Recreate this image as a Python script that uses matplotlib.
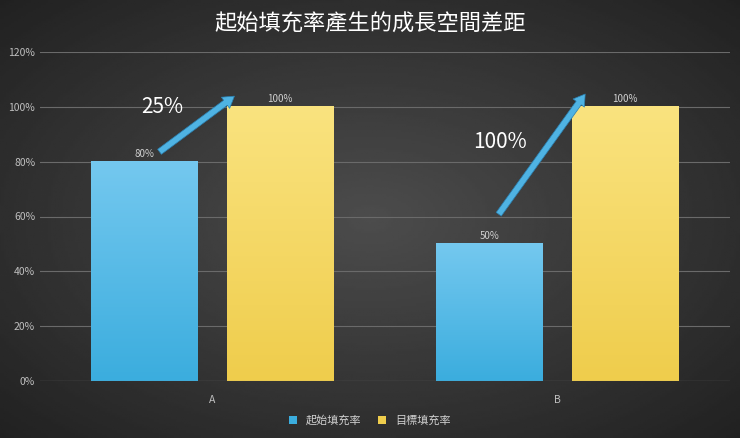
import numpy as np
import matplotlib
matplotlib.use('agg')
import matplotlib.pyplot as plt

plt.rcParams['font.family'] = ['Noto Sans CJK TC', 'DejaVu Sans']

categories = ['A', 'B']
start_fill = [80, 50]
target_fill = [100, 100]
arrow_labels = ['25%', '100%']
series_names = ['起始填充率', '目標填充率']
title = '起始填充率產生的成長空間差距'

blue_top, blue_bot = '#74c8ef', '#3badde'
yel_top, yel_bot = '#fae37f', '#efcd4c'

fig = plt.figure(figsize=(7.4, 4.38), dpi=100)
# dark radial-ish background
bg = fig.add_axes([0, 0, 1, 1])
yy, xx = np.mgrid[-1:1:200j, -1:1:300j]
r = np.sqrt(xx**2 + yy**2)
bg.imshow(0.30 - 0.12 * r, cmap='gray', vmin=0, vmax=1, aspect='auto', extent=(0, 1, 0, 1))
bg.axis('off')

ax = fig.add_axes([40/740, 57/438, 690/740, 329/438])
ax.set_facecolor('none')
x = np.arange(len(categories))
w = 0.31
off = 0.196

def grad_bar(xc, h, ctop, cbot):
    c1 = np.array(matplotlib.colors.to_rgb(ctop))
    c2 = np.array(matplotlib.colors.to_rgb(cbot))
    t = np.linspace(0, 1, 100)[:, None]
    img = (c1 * (1 - t) + c2 * t)[:, None, :]
    ax.imshow(img, extent=(xc - w/2, xc + w/2, 0, h), aspect='auto', zorder=2)

for i in range(len(categories)):
    grad_bar(x[i] - off, start_fill[i], blue_top, blue_bot)
    grad_bar(x[i] + off, target_fill[i], yel_top, yel_bot)
    ax.text(x[i] - off, start_fill[i] + 1, f'{start_fill[i]}%', ha='center', va='bottom',
            color='#d0d0d0', fontsize=7, zorder=3)
    ax.text(x[i] + off, target_fill[i] + 1, f'{target_fill[i]}%', ha='center', va='bottom',
            color='#d0d0d0', fontsize=7, zorder=3)

# arrows from start bar to target bar
arrow_pts = [((-0.16, 83), (0.07, 104.5)), ((-0.175, 60), (0.085, 105.5))]
label_pos = [(-0.146, 100), (-0.167, 87)]
for (p0, p1), lab, lp in zip(arrow_pts, arrow_labels, label_pos):
    ax.annotate('', xy=(x[arrow_labels.index(lab)] + p1[0], p1[1]),
                xytext=(x[arrow_labels.index(lab)] + p0[0], p0[1]),
                arrowprops=dict(arrowstyle='simple,head_width=1.0,head_length=0.8,tail_width=0.45',
                                fc='#4fb3e3', ec='#2a7fb0', lw=0.5), zorder=4)
    ax.text(x[arrow_labels.index(lab)] + lp[0], lp[1], lab, ha='center', va='center',
            color='white', fontsize=15, zorder=5)

ax.set_xlim(-0.5, 1.5)
ax.set_ylim(0, 120)
ax.set_yticks(range(0, 121, 20))
ax.set_yticklabels([f'{v}%' for v in range(0, 121, 20)])
ax.set_xticks(x)
ax.set_xticklabels(categories)
ax.tick_params(colors='#bfbfbf', labelsize=7.5, length=0)
ax.tick_params(axis='x', pad=10)
ax.grid(axis='y', color='#6a6a6a', lw=0.8, zorder=0)
ax.set_axisbelow(True)
for s in ax.spines.values():
    s.set_visible(False)
ax.axhline(0, color='#8a8a8a', lw=0.8)

fig.text(0.5, 0.945, title, ha='center', va='center', color='white', fontsize=16)
handles = [plt.Rectangle((0, 0), 1, 1, fc=blue_bot), plt.Rectangle((0, 0), 1, 1, fc=yel_bot)]
fig.legend(handles, series_names, loc='center', bbox_to_anchor=(0.5, 0.04), ncol=2, frameon=False,
           labelcolor='#d0d0d0', fontsize=8, handlelength=0.7, handleheight=0.7, columnspacing=1.5)

plt.savefig('out.png', dpi=100)
plt.close(fig)
